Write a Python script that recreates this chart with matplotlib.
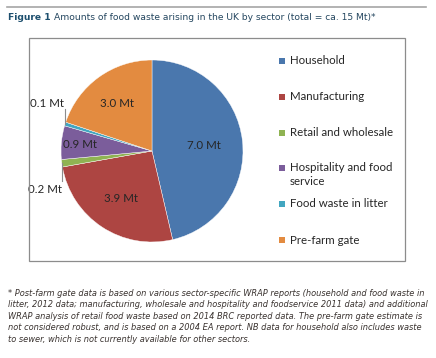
import numpy as np
import matplotlib
matplotlib.use('Agg')
import matplotlib.pyplot as plt
from matplotlib.patches import Rectangle
from matplotlib.lines import Line2D

# data
sectors = ['Household', 'Manufacturing', 'Retail and wholesale',
           'Hospitality and food\nservice', 'Food waste in litter', 'Pre-farm gate']
amounts = [7.0, 3.9, 0.2, 0.9, 0.1, 3.0]
labels = ['7.0 Mt', '3.9 Mt', '0.2 Mt', '0.9 Mt', '0.1 Mt', '3.0 Mt']
colors = ['#4a77ad', '#ad4542', '#8fb352', '#7b5d9b', '#42a6c0', '#e38b40']

title_bold = 'Figure 1'
title_rest = 'Amounts of food waste arising in the UK by sector (total = ca. 15 Mt)*'
footnote = ('* Post-farm gate data is based on various sector-specific WRAP reports (household and food waste in\n'
            'litter, 2012 data; manufacturing, wholesale and hospitality and foodservice 2011 data) and additional\n'
            'WRAP analysis of retail food waste based on 2014 BRC reported data. The pre-farm gate estimate is\n'
            'not considered robust, and is based on a 2004 EA report. NB data for household also includes waste\n'
            'to sewer, which is not currently available for other sectors.')

W, H = 436, 358
fig = plt.figure(figsize=(W / 100, H / 100), dpi=100)
fig.patch.set_facecolor('white')

def fx(px):
    return px / W

def fy(py):
    return 1 - py / H

# top rule and chart frame
fig.add_artist(Line2D([fx(7), fx(426)], [fy(7), fy(7)], color='#a6a6a6', lw=1.2))
fig.add_artist(Rectangle((fx(29), fy(261)), fx(405) - fx(29), fy(38) - fy(261),
                         fill=False, edgecolor='#8c8c8c', lw=0.9))

# title
rend = fig.canvas.get_renderer()
t1 = fig.text(fx(8), fy(18), title_bold, fontsize=6.6, fontweight='bold',
              color='#1d4f6e', va='center', ha='left')
bb = t1.get_window_extent(renderer=rend)
fig.text(bb.x1 / W + fx(3), fy(18), title_rest, fontsize=6.6,
         color='#24465f', va='center', ha='left')

# pie
cx, cy, r = 152, 151, 91
ax = fig.add_axes([fx(cx - r), fy(cy + r), 2 * r / W, 2 * r / H])
wedges, _ = ax.pie(amounts, colors=colors, startangle=90, counterclock=False,
                   wedgeprops=dict(edgecolor='white', linewidth=0.3))
ax.set_xlim(-1, 1)
ax.set_ylim(-1, 1)
ax.axis('off')

lab_font = dict(family=['Lato', 'DejaVu Sans'], fontsize=8.3, color='#262626')
inside = {0: 0.57, 1: 0.62, 3: 0.80, 5: 0.65}
for i, w in enumerate(wedges):
    mid = np.deg2rad((w.theta1 + w.theta2) / 2)
    if i in inside:
        d = inside[i]
        ax.text(d * np.cos(mid), d * np.sin(mid), labels[i], ha='center', va='center', **lab_font)
    else:
        ex, ey = np.cos(mid), np.sin(mid)
        if ey > 0:
            ax.plot([ex, ex], [ey, ey + 0.16], color='#8c8c8c', lw=0.8, clip_on=False)
            ax.text(ex - 0.20, ey + 0.22, labels[i], ha='center', va='center', **lab_font)
        else:
            ax.plot([ex, ex], [ey, ey - 0.20], color='#8c8c8c', lw=0.8, clip_on=False)
            ax.text(ex - 0.18, ey - 0.29, labels[i], ha='center', va='center', **lab_font)

# legend
leg_y = [61, 97, 133, 168, 204, 240]
for name, c, y in zip(sectors, colors, leg_y):
    fig.add_artist(Rectangle((fx(279), fy(y + 3)), fx(6), 6 / H, facecolor=c, edgecolor='none'))
    if '\n' in name:
        fig.text(fx(290), fy(y - 6), name, fontsize=8.3, family=['Lato', 'DejaVu Sans'],
                 color='#262626', va='top', ha='left', linespacing=1.3)
    else:
        fig.text(fx(290), fy(y), name, fontsize=8.3, family=['Lato', 'DejaVu Sans'],
                 color='#262626', va='center', ha='left')

# footnote
fig.text(fx(8), fy(289), footnote, fontsize=5.95, style='italic', color='#3a3330',
         va='top', ha='left', linespacing=1.35)

fig.savefig('out.png', dpi=100, facecolor='white')
